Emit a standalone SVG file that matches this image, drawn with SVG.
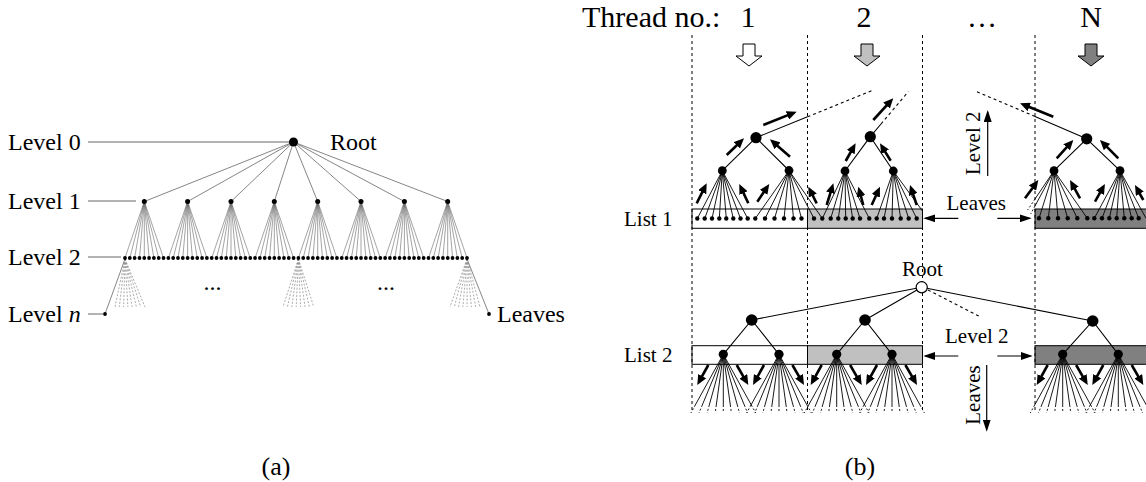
<svg xmlns="http://www.w3.org/2000/svg" xmlns:xlink="http://www.w3.org/1999/xlink" width="1146" height="482" viewBox="0 0 1146 482">
<defs>
<style>
text{font-family:"Liberation Serif","Times New Roman",serif;fill:#000}
.la{font-size:24px}
.lb{font-size:21px}
.hd{font-size:30px}
.cap{font-size:26px}
.lvl{stroke:#666;stroke-width:1;fill:none}
.ra{stroke:#777;stroke-width:0.9;fill:none}
.fa{stroke:#666;stroke-width:0.6;fill:none}
.da{stroke:#888;stroke-width:0.7;stroke-dasharray:2 1.6;fill:none}
.vd{stroke:#000;stroke-width:1;stroke-dasharray:3 3;fill:none}
.ed{stroke:#000;stroke-width:1.1;fill:none}
.edd{stroke:#000;stroke-width:1.1;stroke-dasharray:3 3;fill:none}
.fn{stroke:#000;stroke-width:0.9;fill:none}
.fnd{stroke:#000;stroke-width:0.9;stroke-dasharray:2 2;fill:none}
.bo{stroke:#000;stroke-width:2.6;fill:none;marker-end:url(#bh)}
.tn{stroke:#000;stroke-width:1.2;fill:none;marker-end:url(#th)}
.bar{stroke:#000;stroke-width:1}
.w{fill:#fff}.g1{fill:#c0c0c0}.g2{fill:#808080}
.nd{fill:#000}
.blk{stroke:#000;stroke-width:1}
</style>
<marker id="bh" markerUnits="userSpaceOnUse" markerWidth="11" markerHeight="9" refX="4" refY="4.5" orient="auto"><path d="M0,0 L10,4.5 L0,9 z" fill="#000"/></marker>
<marker id="th" markerUnits="userSpaceOnUse" markerWidth="12" markerHeight="8" refX="10" refY="4" orient="auto"><path d="M0,0 L12,4 L0,8 z" fill="#000"/></marker>
<!-- level-2 node of list 2 with its fan of leaf branches and downward arrows -->
<g id="fan2">
<path class="fn" d="M0,0 l-28,50.7 M0,0 l-21,50.7 M0,0 l-14,50.7 M0,0 l-7,50.7 M0,0 l0,50.7 M0,0 l7,50.7 M0,0 l14,50.7 M0,0 l21,50.7 M0,0 l28,50.7"/>
<path class="fnd" d="M-28,50.7 l-4.4,8 M-21,50.7 l-3.3,8 M-14,50.7 l-2.2,8 M-7,50.7 l-1.1,8 M0,50.7 l0,8 M7,50.7 l1.1,8 M14,50.7 l2.2,8 M21,50.7 l3.3,8 M28,50.7 l4.4,8"/>
<line class="bo" x1="-15" y1="10.7" x2="-23.1" y2="25.4"/>
<line class="bo" x1="13.4" y1="10.7" x2="22" y2="25.5"/>
<circle class="nd" cx="0" cy="0" r="4.6"/>
</g>
</defs>

<rect width="1146" height="482" fill="#fff"/>

<!-- ===== (a) complete tree ===== -->
<g id="a-labels">
<text class="la" x="8" y="150">Level 0</text>
<text class="la" x="8" y="209">Level 1</text>
<text class="la" x="8" y="265">Level 2</text>
<text class="la" x="8" y="322">Level <tspan font-style="italic">n</tspan></text>
<text class="la" x="330" y="150">Root</text>
<text class="la" x="497" y="322">Leaves</text>
<text class="la" x="203.5" y="289.5">...</text>
<text class="la" x="377" y="289.5">...</text>
</g>

<g id="a-connectors">
<path class="lvl" d="M88,142 H289 M88,201 H136 M88,257 H121 M88,314 H103"/>
<path class="ra" d="M293.5,142 L144.3,201.5 M293.5,142 L187.6,201.5 M293.5,142 L231,201.5 M293.5,142 L274.3,201.5 M293.5,142 L317.7,201.5 M293.5,142 L361,201.5 M293.5,142 L404.4,201.5 M293.5,142 L447.7,201.5"/>
<path class="fa" d="M144.3,201.5 L125,258 M144.3,201.5 L129.8,258 M144.3,201.5 L134.6,258 M144.3,201.5 L139.5,258 M144.3,201.5 L144.3,258 M144.3,201.5 L149.1,258 M144.3,201.5 L153.9,258 M144.3,201.5 L158.7,258 M144.3,201.5 L163.5,258"/>
<path class="fa" d="M187.6,201.5 L168.4,258 M187.6,201.5 L173.2,258 M187.6,201.5 L178,258 M187.6,201.5 L182.8,258 M187.6,201.5 L187.6,258 M187.6,201.5 L192.4,258 M187.6,201.5 L197.3,258 M187.6,201.5 L202.1,258 M187.6,201.5 L206.9,258"/>
<path class="fa" d="M231,201.5 L211.7,258 M231,201.5 L216.5,258 M231,201.5 L221.3,258 M231,201.5 L226.2,258 M231,201.5 L231,258 M231,201.5 L235.8,258 M231,201.5 L240.6,258 M231,201.5 L245.4,258 M231,201.5 L250.2,258"/>
<path class="fa" d="M274.3,201.5 L255.1,258 M274.3,201.5 L259.9,258 M274.3,201.5 L264.7,258 M274.3,201.5 L269.5,258 M274.3,201.5 L274.3,258 M274.3,201.5 L279.1,258 M274.3,201.5 L284,258 M274.3,201.5 L288.8,258 M274.3,201.5 L293.6,258"/>
<path class="fa" d="M317.7,201.5 L298.4,258 M317.7,201.5 L303.2,258 M317.7,201.5 L308,258 M317.7,201.5 L312.9,258 M317.7,201.5 L317.7,258 M317.7,201.5 L322.5,258 M317.7,201.5 L327.3,258 M317.7,201.5 L332.1,258 M317.7,201.5 L336.9,258"/>
<path class="fa" d="M361,201.5 L341.8,258 M361,201.5 L346.6,258 M361,201.5 L351.4,258 M361,201.5 L356.2,258 M361,201.5 L361,258 M361,201.5 L365.9,258 M361,201.5 L370.7,258 M361,201.5 L375.5,258 M361,201.5 L380.3,258"/>
<path class="fa" d="M404.4,201.5 L385.1,258 M404.4,201.5 L389.9,258 M404.4,201.5 L394.8,258 M404.4,201.5 L399.6,258 M404.4,201.5 L404.4,258 M404.4,201.5 L409.2,258 M404.4,201.5 L414,258 M404.4,201.5 L418.8,258 M404.4,201.5 L423.7,258"/>
<path class="fa" d="M447.7,201.5 L428.5,258 M447.7,201.5 L433.3,258 M447.7,201.5 L438.1,258 M447.7,201.5 L442.9,258 M447.7,201.5 L447.7,258 M447.7,201.5 L452.6,258 M447.7,201.5 L457.4,258 M447.7,201.5 L462.2,258 M447.7,201.5 L467,258"/>
<!-- deeper levels, elided -->
<path class="da" d="M125,259 L115,307 M125,259 L119.3,307 M125,259 L123.6,307 M125,259 L127.9,307 M125,259 L132.1,307 M125,259 L136.4,307 M125,259 L140.7,307 M125,259 L145,307"/>
<path class="da" d="M298.4,259 L283,307 M298.4,259 L287.4,307 M298.4,259 L291.8,307 M298.4,259 L296.2,307 M298.4,259 L300.6,307 M298.4,259 L305,307 M298.4,259 L309.4,307 M298.4,259 L313.8,307"/>
<path class="da" d="M467,259 L450,307 M467,259 L454.3,307 M467,259 L458.6,307 M467,259 L462.9,307 M467,259 L467.1,307 M467,259 L471.4,307 M467,259 L475.7,307 M467,259 L480,307"/>
<path class="ra" d="M125,259 L105,314 M467,259 L489,314"/>
</g>

<g id="a-nodes">
<circle id="a-root" class="nd" cx="293.5" cy="142" r="4.5"/>
<g id="a-level1" class="nd">
<circle cx="144.3" cy="201.5" r="2.5"/><circle cx="187.6" cy="201.5" r="2.5"/><circle cx="231" cy="201.5" r="2.5"/><circle cx="274.3" cy="201.5" r="2.5"/>
<circle cx="317.7" cy="201.5" r="2.5"/><circle cx="361" cy="201.5" r="2.5"/><circle cx="404.4" cy="201.5" r="2.5"/><circle cx="447.7" cy="201.5" r="2.5"/>
</g>
<!-- 72 level-2 nodes drawn as a dotted row -->
<line id="a-level2" x1="125" y1="258" x2="467.1" y2="258" stroke="#000" stroke-width="3.8" stroke-linecap="round" stroke-dasharray="0 4.817"/>
<circle id="a-leaf-left" class="nd" cx="105" cy="314" r="1.9"/>
<circle id="a-leaf-right" class="nd" cx="489" cy="314" r="1.9"/>
</g>

<text class="cap" x="276" y="475" text-anchor="middle">(a)</text>

<!-- ===== (b) parallel threads ===== -->
<g id="b-header">
<text class="hd" x="582" y="27">Thread no.:</text>
<text class="hd" x="748" y="27" text-anchor="middle">1</text>
<text class="hd" x="864" y="27" text-anchor="middle">2</text>
<text class="hd" x="982" y="27" text-anchor="middle">…</text>
<text class="hd" x="1091" y="27" text-anchor="middle">N</text>
<polygon class="blk w" points="743,44 755,44 755,56 762,56 749,66 736,56 743,56"/>
<polygon class="blk g1" points="861,44 873,44 873,56 880,56 867,66 854,56 861,56"/>
<polygon class="blk g2" points="1085,44 1097,44 1097,56 1104,56 1091,66 1078,56 1085,56"/>
</g>

<!-- list bars -->
<g id="b-bars">
<rect class="bar w" x="692" y="209" width="115.5" height="19.3"/>
<rect class="bar g1" x="807.5" y="209" width="115" height="19.3"/>
<rect class="bar g2" x="1035" y="209" width="120" height="19.3"/>
<rect class="bar w" x="692" y="345.7" width="115.5" height="18.6"/>
<rect class="bar g1" x="807.5" y="345.7" width="115" height="18.6"/>
<rect class="bar g2" x="1035" y="345.7" width="120" height="18.6"/>
</g>

<g id="b-separators">
<path class="vd" d="M692,35 V413 M807.5,35 V413 M922.5,35 V413 M1035,35 V413"/>
</g>

<g id="b-labels">
<text class="lb" x="624" y="226">List 1</text>
<text class="lb" x="624" y="362">List 2</text>
<text class="lb" x="946.5" y="210">Leaves</text>
<text class="lb" x="945" y="343">Level 2</text>
<text class="lb" x="902" y="276">Root</text>
<text class="lb" transform="translate(980,143.3) rotate(-90)" text-anchor="middle">Level 2</text>
<text class="lb" transform="translate(980,395) rotate(-90)" text-anchor="middle">Leaves</text>
</g>

<g id="connectors">
<!-- list 1, thread 1 -->
<path class="ed" d="M756,137.7 L722.3,170.7 M756,137.7 L789,170.5 M756,137.7 L807.5,116.8"/>
<path class="edd" d="M807.5,116.8 L871.7,90.7"/>
<path class="fn" d="M722.3,170.7 L697.3,218.5 M722.3,170.7 L704.7,218.5 M722.3,170.7 L712,218.5 M722.3,170.7 L719.3,218.5 M722.3,170.7 L726.3,218.5 M722.3,170.7 L733.3,218.5 M722.3,170.7 L740.5,218.5 M722.3,170.7 L747.7,218.5"/>
<path class="fn" d="M789,170.5 L755.3,218.5 M789,170.5 L765,218.5 M789,170.5 L774.5,218.5 M789,170.5 L784,218.5 M789,170.5 L793.5,218.5 M789,170.5 L801.5,218.5 M789,170.5 L814,218.5 M789,170.5 L822.3,218.5"/>
<!-- list 1, thread 2 -->
<path class="ed" d="M870.3,136.7 L845,171 M870.3,136.7 L893.3,171 M870.3,136.7 L881,124"/>
<path class="edd" d="M881,124 L908.3,91.7"/>
<path class="fn" d="M845,171 L822.3,218.5 M845,171 L830.7,218.5 M845,171 L838.3,218.5 M845,171 L845.7,218.5 M845,171 L852.7,218.5 M845,171 L860,218.5 M845,171 L869.3,218.5"/>
<path class="fn" d="M893.3,171 L876.7,218.5 M893.3,171 L884,218.5 M893.3,171 L892,218.5 M893.3,171 L900.7,218.5 M893.3,171 L908.7,218.5 M893.3,171 L916.7,218.5 M893.3,171 L922.5,211"/>
<!-- list 1, thread N -->
<path class="ed" d="M1086.7,138.8 L1054,170.7 M1086.7,138.8 L1120,170.7 M1086.7,138.8 L1035,116.4"/>
<path class="edd" d="M1035,116.4 L976.7,91.7"/>
<path class="fn" d="M1054,170.7 L1039,218.3 M1054,170.7 L1048.3,218.3 M1054,170.7 L1058,218.3 M1054,170.7 L1067.7,218.3 M1054,170.7 L1077.3,218.3 M1054,170.7 L1087.3,218.3 M1054,170.7 L1035,206 M1054,170.7 L1035,199"/>
<path class="fnd" d="M1035,206 L1030.7,214 M1035,199 L1027.6,210"/>
<path class="fn" d="M1120,170.7 L1094.3,218.3 M1120,170.7 L1102,218.3 M1120,170.7 L1109.3,218.3 M1120,170.7 L1116.7,218.3 M1120,170.7 L1124.3,218.3 M1120,170.7 L1131.7,218.3 M1120,170.7 L1138.7,218.3 M1120,170.7 L1146,218.3"/>
<!-- upward arrows, list 1 -->
<line class="bo" x1="763.3" y1="125" x2="791.1" y2="113.9"/>
<line class="bo" x1="726.7" y1="155" x2="739.7" y2="142.5"/>
<line class="bo" x1="790" y1="156.7" x2="774.5" y2="143.2"/>
<line class="bo" x1="696.7" y1="203.3" x2="704" y2="188.7"/>
<line class="bo" x1="748.3" y1="203.3" x2="741.8" y2="189.4"/>
<line class="bo" x1="757.3" y1="201.7" x2="765.9" y2="189"/>
<line class="bo" x1="816.7" y1="203.3" x2="811" y2="192"/>
<line class="bo" x1="873.3" y1="120" x2="889.2" y2="102.7"/>
<line class="bo" x1="845.7" y1="161" x2="852.7" y2="148.5"/>
<line class="bo" x1="890.7" y1="160.7" x2="883.1" y2="148.4"/>
<line class="bo" x1="826.7" y1="205" x2="831.6" y2="189"/>
<line class="bo" x1="863.3" y1="205" x2="859.9" y2="192.5"/>
<line class="bo" x1="871.7" y1="205" x2="877.5" y2="192.2"/>
<line class="bo" x1="916.7" y1="205" x2="911.9" y2="190.7"/>
<line class="bo" x1="1053.3" y1="116.7" x2="1025.6" y2="105.5"/>
<line class="bo" x1="1056.7" y1="158.3" x2="1069.3" y2="144.4"/>
<line class="bo" x1="1118.3" y1="158.3" x2="1104.2" y2="144.2"/>
<line class="bo" x1="1025" y1="198.3" x2="1034.8" y2="184.9"/>
<line class="bo" x1="1080" y1="198.3" x2="1072.9" y2="185.3"/>
<line class="bo" x1="1095" y1="201.7" x2="1102" y2="189.2"/>
<line class="bo" x1="1143.3" y1="200" x2="1137.9" y2="190.3"/>
<!-- annotations -->
<line class="tn" x1="958.3" y1="218.3" x2="925.3" y2="218.3"/>
<line class="tn" x1="997.3" y1="218.3" x2="1029.7" y2="218.3"/>
<line class="tn" x1="958.3" y1="356" x2="925.3" y2="356"/>
<line class="tn" x1="997.3" y1="356" x2="1030.7" y2="356"/>
<line class="tn" x1="987.7" y1="176" x2="987.7" y2="112"/>
<line class="tn" x1="986.7" y1="365" x2="986.7" y2="429.7"/>
<!-- list 2 top -->
<path class="ed" d="M921.7,287.3 L751.7,320 M921.7,287.3 L865,320 M921.7,287.3 L1092.7,321"/>
<path class="edd" d="M928,290 L980,316.7"/>
<path class="ed" d="M751.7,320 L723.3,354.3 M751.7,320 L779,354.3 M865,320 L836.7,354.3 M865,320 L892,354.3 M1092.7,321 L1062.7,354.3 M1092.7,321 L1118.3,354.3"/>
</g>

<g id="b-list1-nodes" class="nd">
<circle id="t1-top" cx="756" cy="137.7" r="5.6"/>
<circle cx="722.3" cy="170.7" r="4.4"/><circle cx="789" cy="170.5" r="4.4"/>
<circle id="t2-top" cx="870.3" cy="136.7" r="5.6"/>
<circle cx="845" cy="171" r="4.4"/><circle cx="893.3" cy="171" r="4.4"/>
<circle id="tn-top" cx="1086.7" cy="138.8" r="5.6"/>
<circle cx="1054" cy="170.7" r="4.4"/><circle cx="1120" cy="170.7" r="4.4"/>
</g>
<g id="b-list1-leaves" class="nd">
<circle cx="697.3" cy="218.5" r="2.2"/><circle cx="704.7" cy="218.5" r="2.2"/><circle cx="712" cy="218.5" r="2.2"/><circle cx="719.3" cy="218.5" r="2.2"/>
<circle cx="726.3" cy="218.5" r="2.2"/><circle cx="733.3" cy="218.5" r="2.2"/><circle cx="740.5" cy="218.5" r="2.2"/><circle cx="747.7" cy="218.5" r="2.2"/>
<circle cx="755.3" cy="218.5" r="2.2"/><circle cx="765" cy="218.5" r="2.2"/><circle cx="774.5" cy="218.5" r="2.2"/><circle cx="784" cy="218.5" r="2.2"/>
<circle cx="793.5" cy="218.5" r="2.2"/><circle cx="801.5" cy="218.5" r="2.2"/>
<circle cx="814" cy="218.5" r="2.2"/><circle cx="822.3" cy="218.5" r="2.2"/><circle cx="830.7" cy="218.5" r="2.2"/><circle cx="838.3" cy="218.5" r="2.2"/>
<circle cx="845.7" cy="218.5" r="2.2"/><circle cx="852.7" cy="218.5" r="2.2"/><circle cx="860" cy="218.5" r="2.2"/><circle cx="869.3" cy="218.5" r="2.2"/>
<circle cx="876.7" cy="218.5" r="2.2"/><circle cx="884" cy="218.5" r="2.2"/><circle cx="892" cy="218.5" r="2.2"/><circle cx="900.7" cy="218.5" r="2.2"/>
<circle cx="908.7" cy="218.5" r="2.2"/><circle cx="916.7" cy="218.5" r="2.2"/>
<circle cx="1039" cy="218.3" r="2.2"/><circle cx="1048.3" cy="218.3" r="2.2"/><circle cx="1058" cy="218.3" r="2.2"/><circle cx="1067.7" cy="218.3" r="2.2"/>
<circle cx="1077.3" cy="218.3" r="2.2"/><circle cx="1087.3" cy="218.3" r="2.2"/><circle cx="1094.3" cy="218.3" r="2.2"/><circle cx="1102" cy="218.3" r="2.2"/>
<circle cx="1109.3" cy="218.3" r="2.2"/><circle cx="1116.7" cy="218.3" r="2.2"/><circle cx="1124.3" cy="218.3" r="2.2"/><circle cx="1131.7" cy="218.3" r="2.2"/>
<circle cx="1138.7" cy="218.3" r="2.2"/>
</g>

<g id="b-list2-nodes">
<circle id="b-root" cx="921.7" cy="287.3" r="5.6" fill="#fff" stroke="#000" stroke-width="1.2"/>
<circle id="l2-t1" class="nd" cx="751.7" cy="320" r="5.8"/>
<circle id="l2-t2" class="nd" cx="865" cy="320" r="5.8"/>
<circle id="l2-tn" class="nd" cx="1092.7" cy="321" r="5.8"/>
<use id="l2-t1a" xlink:href="#fan2" x="723.3" y="354.3"/>
<use id="l2-t1b" xlink:href="#fan2" x="779" y="354.3"/>
<use id="l2-t2a" xlink:href="#fan2" x="836.7" y="354.3"/>
<use id="l2-t2b" xlink:href="#fan2" x="892" y="354.3"/>
<use id="l2-tna" xlink:href="#fan2" x="1062.7" y="354.3"/>
<use id="l2-tnb" xlink:href="#fan2" x="1118.3" y="354.3"/>
</g>

<text class="cap" x="860" y="475" text-anchor="middle">(b)</text>
</svg>
